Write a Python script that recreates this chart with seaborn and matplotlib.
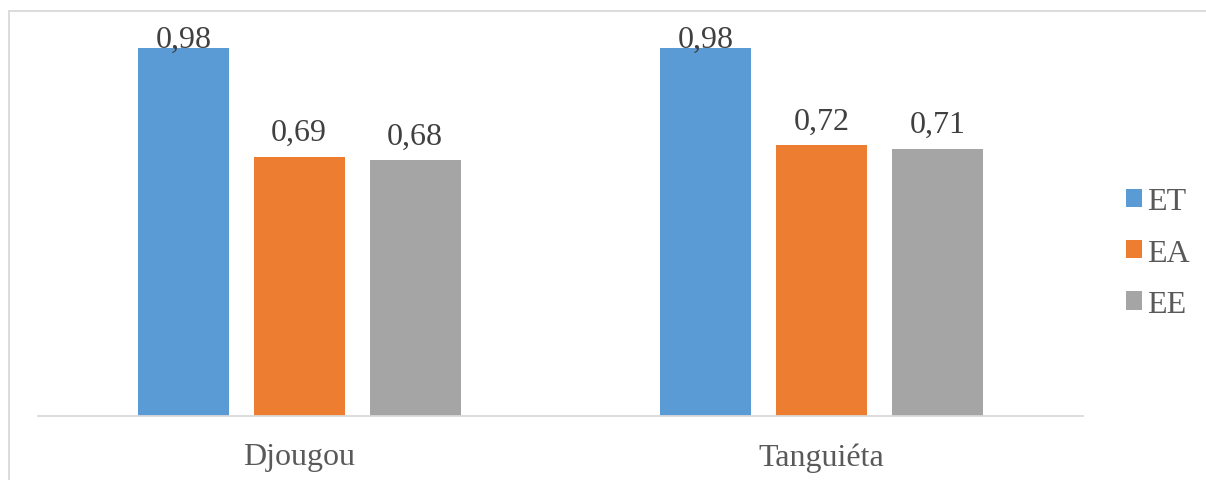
import matplotlib
matplotlib.use("Agg")
import matplotlib.pyplot as plt
from matplotlib.lines import Line2D
import seaborn as sns
import pandas as pd

# Data
communes = ["Djougou", "Tanguiéta"]
indicateurs = ["ET", "EA", "EE"]
et_values = [0.98, 0.98]
ea_values = [0.69, 0.72]
ee_values = [0.68, 0.71]
couleurs = ["#5B9BD5", "#ED7D31", "#A5A5A5"]

rows = []
for ind, vals in zip(indicateurs, [et_values, ea_values, ee_values]):
    for c, v in zip(communes, vals):
        rows.append({"Commune": c, "Indicateur": ind, "Valeur": v})
df = pd.DataFrame(rows)

sns.set_theme(style="white")
plt.rcParams["font.family"] = ["Liberation Serif", "DejaVu Serif"]

FS = 23

fig = plt.figure(figsize=(12.06, 4.81), dpi=100)
ax = fig.add_axes([38 / 1206, 64 / 481, (1083 - 38) / 1206, (417 - 41) / 481])

sns.barplot(data=df, x="Commune", y="Valeur", hue="Indicateur",
            order=communes, hue_order=indicateurs, palette=couleurs,
            width=0.666, gap=0.216, saturation=1, edgecolor="none",
            errorbar=None, ax=ax)

ax.set_xlim(-0.5, 1.5)
ax.set_ylim(0, 1.0)

# Value labels above each bar (kept inside the plot area)
for container in ax.containers:
    for bar in container:
        h = bar.get_height()
        y = min(h + 0.045, 0.983)
        ax.text(bar.get_x() + bar.get_width() / 2, y,
                f"{h:.2f}".replace(".", ","), ha="center", va="baseline",
                fontsize=FS, color="#404040")

# Axes styling
for side in ["top", "right", "left"]:
    ax.spines[side].set_visible(False)
ax.spines["bottom"].set_color("#D9D9D9")
ax.spines["bottom"].set_linewidth(1.3)
ax.set_yticks([])
ax.set_xlabel("")
ax.set_ylabel("")
ax.tick_params(axis="x", length=0, pad=19, labelsize=FS, labelcolor="#595959")

# Legend on the right
handles, labels = ax.get_legend_handles_labels()
ax.get_legend().remove()
fig.legend(handles, labels, loc="center left",
           bbox_to_anchor=(1097 / 1206, (481 - 254) / 481),
           frameon=False, fontsize=FS, labelcolor="#595959",
           handlelength=0.52, handleheight=0.52, handletextpad=0.15,
           labelspacing=0.7)

# Chart border
fig.add_artist(Line2D([8.5 / 1206, 1.0], [1 - 12 / 481, 1 - 12 / 481],
                      transform=fig.transFigure, color="#D9D9D9", lw=1.3))
fig.add_artist(Line2D([8.5 / 1206, 8.5 / 1206], [0, 1 - 12 / 481],
                      transform=fig.transFigure, color="#D9D9D9", lw=1.3))

fig.savefig("out.png", dpi=100, facecolor="white")
